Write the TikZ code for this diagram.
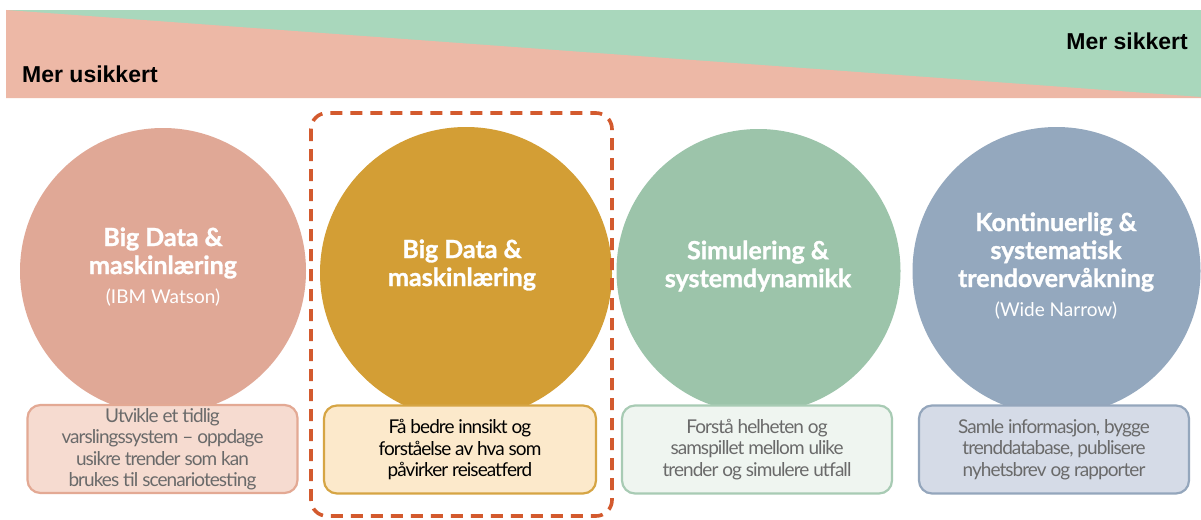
\documentclass[tikz,border=0pt]{standalone}
\usepackage{fontspec}
\setmainfont{Lato}
\newfontfamily\arialb{Liberation Sans}[BoldFont={* Bold}]
\newfontfamily\heavy{Lato Bold}[FakeBold=1.2]
\definecolor{bpink}{HTML}{EDB8A6}
\definecolor{bgreen}{HTML}{A9D7BC}
\definecolor{cone}{HTML}{E0A896}
\definecolor{ctwo}{HTML}{D39E35}
\definecolor{cthree}{HTML}{9CC4AA}
\definecolor{cfour}{HTML}{94A8BE}
\definecolor{fone}{HTML}{F6DBD0}
\definecolor{lone}{HTML}{E3A994}
\definecolor{ftwo}{HTML}{FCE9CB}
\definecolor{ltwo}{HTML}{D6A544}
\definecolor{fthree}{HTML}{EFF5F0}
\definecolor{lthree}{HTML}{A8CBB4}
\definecolor{ffour}{HTML}{D5DBE7}
\definecolor{lfour}{HTML}{94A6BC}
\definecolor{gtext}{HTML}{6A6A6A}
\definecolor{dashc}{HTML}{D35A2E}
\newfontfamily\boxfont{Lato}[LetterSpace=-5]
\begin{document}
\begin{tikzpicture}[x=1pt,y=-1pt,
  circ/.style={circle,inner sep=0pt,minimum size=#1},
  ctext/.style={text=white,font=\heavy\fontsize{25}{28}\selectfont,align=center,inner sep=0pt},
  stext/.style={text=white,font=\fontsize{19}{22}\selectfont,align=center,inner sep=0pt},
  box/.style={rounded corners=13pt,line width=2.2pt,minimum width=270pt,minimum height=88pt,align=center,font=\boxfont\fontsize{19}{21.5}\selectfont,inner sep=0pt},
  bantext/.style={font=\arialb\bfseries\fontsize{23}{26}\selectfont,text=black,inner sep=0pt}]
\useasboundingbox (0,0) rectangle (1201,519);
\fill[white] (0,0) rectangle (1201,519);
% banner
\fill[bgreen] (6,10) rectangle (1201,98);
\fill[bpink] (6,10) -- (1201,97) -- (1201,98) -- (6,98) -- cycle;
\node[bantext,anchor=west] (lo) at (22,74) {Mer usikkert};
\node[bantext,anchor=east] (hi) at (1188,41) {Mer sikkert};
% circles
\node[circ=286pt,fill=cone] (c1) at (163,271) {};
\node[circ=292pt,fill=ctwo] (c2) at (466,273) {};
\node[circ=284pt,fill=cthree] (c3) at (758.5,271) {};
\node[circ=288pt,fill=cfour] (c4) at (1056.5,271) {};
\node[ctext] (t1) at (163,253) {Big Data \&\\maskinlæring};
\node[stext] (s1) at (163,298) {(IBM Watson)};
\node[ctext] (t2) at (462,265) {Big Data \&\\maskinlæring};
\node[ctext] (t3) at (758,266) {Simulering \&\\systemdynamikk};
\node[ctext] (t4) at (1056,252) {Kontinuerlig \&\\systematisk\\trendovervåkning};
\node[stext] (s4) at (1056,311) {(Wide Narrow)};
% boxes
\node[box,draw=lone,fill=fone,text=gtext] (b1) at (162.5,449) {Utvikle et tidlig\\varslingssystem – oppdage\\usikre trender som kan\\brukes til scenariotesting};
\node[box,draw=ltwo,fill=ftwo,text=black,minimum width=272pt] (b2) at (460,449.5) {Få bedre innsikt og\\forståelse av hva som\\påvirker reiseatferd};
\node[box,draw=lthree,fill=fthree,text=gtext] (b3) at (757,449.5) {Forstå helheten og\\samspillet mellom ulike\\trender og simulere utfall};
\node[box,draw=lfour,fill=ffour,text=gtext] (b4) at (1054,449.5) {Samle informasjon, bygge\\trenddatabase, publisere\\nyhetsbrev og rapporter};
% dashed frame
\draw[dashc,line width=3.6pt,rounded corners=16pt,dash pattern=on 12pt off 8pt] (311,113) rectangle (612,516);
\end{tikzpicture}
\end{document}
